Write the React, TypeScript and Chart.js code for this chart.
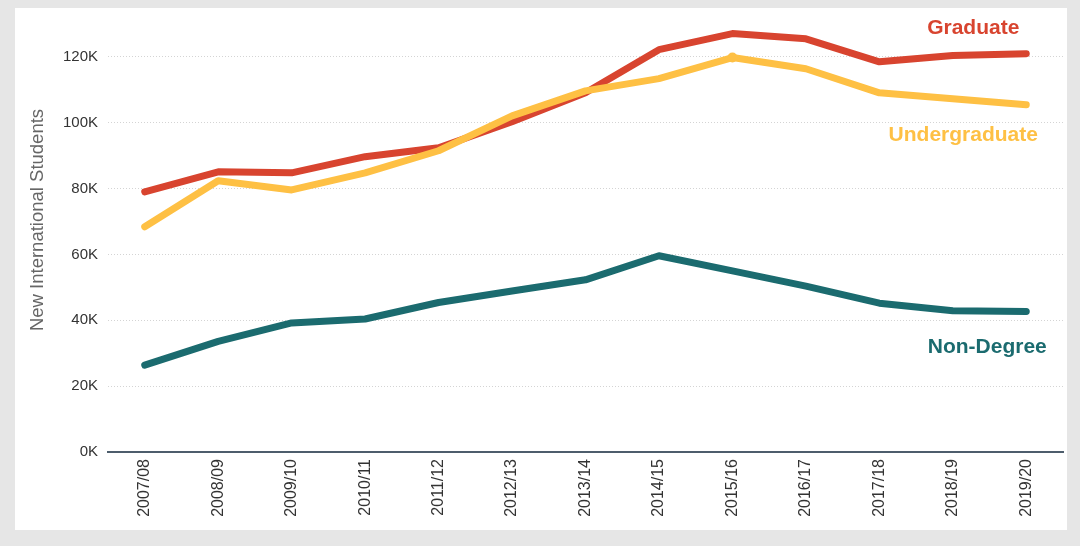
import React, { useEffect, useRef } from "react";
import { Chart, registerables } from "chart.js";

Chart.register(...registerables);

const categories = [
  "2007/08", "2008/09", "2009/10", "2010/11", "2011/12", "2012/13", "2013/14",
  "2014/15", "2015/16", "2016/17", "2017/18", "2018/19", "2019/20",
];
const graduate = [79000, 85100, 84800, 89700, 92400, 100300, 109100, 122200, 127100, 125500, 118500, 120400, 121000];
const undergraduate = [68400, 82400, 79600, 84800, 91500, 102100, 109700, 113400, 119800, 116400, 109100, 107300, 105500];
const nonDegree = [26400, 33600, 39200, 40400, 45400, 48900, 52300, 59600, 55000, 50400, 45200, 42900, 42700];
const yTicks = [0, 20000, 40000, 60000, 80000, 100000, 120000];
const seriesNames = ["Graduate", "Undergraduate", "Non-Degree"];
const seriesColors = ["#d8442f", "#fec044", "#1b6b6f"];
const yTitle = "New International Students";

const FONT = "'Liberation Sans', Arial, sans-serif";

const labelPlugin = {
  id: "seriesLabels",
  afterDatasetsDraw(chart: any) {
    const { ctx, scales, chartArea } = chart;
    const xs = scales.x;
    const ys = scales.y;
    const spots = [
      { dx: -53, v: 128600 },
      { dx: -63, v: 96300 },
      { dx: -39, v: 31900 },
    ];
    ctx.save();
    ctx.font = `bold 21px ${FONT}`;
    ctx.textAlign = "center";
    ctx.textBaseline = "middle";
    seriesNames.forEach((name, i) => {
      ctx.fillStyle = seriesColors[i];
      ctx.fillText(name, xs.getPixelForValue(12) + spots[i].dx, ys.getPixelForValue(spots[i].v));
    });
    ctx.restore();
    // axis title
    ctx.save();
    ctx.translate(23, (chartArea.top + chartArea.bottom) / 2 - 18);
    ctx.rotate(-Math.PI / 2);
    ctx.font = `18.5px ${FONT}`;
    ctx.fillStyle = "#666";
    ctx.textAlign = "center";
    ctx.textBaseline = "middle";
    ctx.fillText(yTitle, 0, 0);
    ctx.restore();
  },
};

export default function App() {
  const ref = useRef<HTMLCanvasElement | null>(null);
  useEffect(() => {
    if (!ref.current) return;
    const datasets = [
      { data: nonDegree, color: seriesColors[2], radius: nonDegree.map(() => 0) },
      { data: undergraduate, color: seriesColors[1], radius: undergraduate.map((_, i) => (i === 8 ? 5 : 0)) },
      { data: graduate, color: seriesColors[0], radius: graduate.map(() => 0) },
    ].map((d) => ({
      data: d.data,
      borderColor: d.color,
      backgroundColor: d.color,
      borderWidth: 7,
      pointRadius: d.radius,
      pointBorderWidth: 0,
      pointHoverRadius: 0,
      borderCapStyle: "round" as const,
      borderJoinStyle: "round" as const,
      tension: 0,
    }));
    const chart = new Chart(ref.current, {
      type: "line",
      data: { labels: categories, datasets },
      plugins: [labelPlugin],
      options: {
        animation: false,
        responsive: true,
        maintainAspectRatio: false,
        layout: { padding: { top: 16, right: 4, bottom: 0, left: 0 } },
        plugins: { legend: { display: false }, tooltip: { enabled: false } },
        events: [],
        scales: {
          x: {
            offset: true,
            grid: { display: false, drawTicks: false },
            border: { display: true, color: "#4d5d6c", width: 2 },
            ticks: {
              minRotation: 90,
              maxRotation: 90,
              padding: 7,
              color: "#333",
              font: { family: FONT, size: 16 },
            },
            afterFit: (s: any) => { s.height = 78; s.paddingTop = 0; s.paddingBottom = 0; },
          },
          y: {
            min: 0,
            max: 130000,
            afterBuildTicks: (s: any) => { s.ticks = yTicks.map((v) => ({ value: v })); },
            grid: { color: "#d4d4d4", lineWidth: 1, drawTicks: false },
            border: { display: false, dash: [1, 2] },
            ticks: {
              padding: 10,
              color: "#333",
              font: { family: FONT, size: 15 },
              callback: (v: any) => `${Math.round(Number(v) / 1000)}K`,
            },
            afterFit: (s: any) => { s.width = 93; s.paddingTop = 0; s.paddingBottom = 0; },
          },
        },
      },
    });
    return () => chart.destroy();
  }, []);
  return (
    <div style={{ position: "fixed", left: 0, top: 0, width: 1080, height: 546, background: "#e6e6e6" }}>
      <div style={{ position: "absolute", left: 15, top: 8, width: 1052, height: 522, background: "#fff" }}>
        <canvas ref={ref} />
      </div>
    </div>
  );
}
